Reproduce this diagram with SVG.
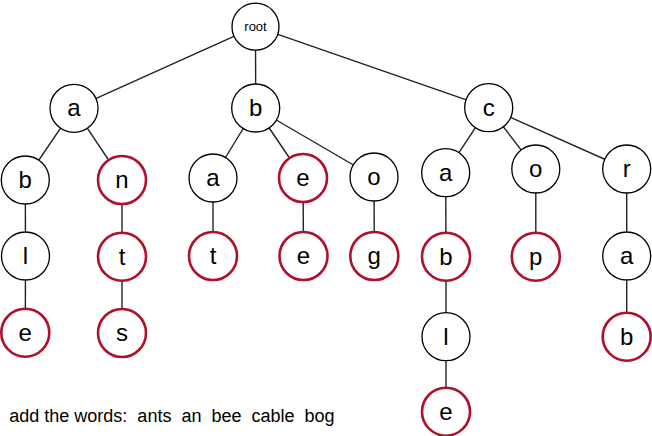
<svg xmlns="http://www.w3.org/2000/svg" width="652" height="436" viewBox="0 0 652 436">
<style>
.n circle{fill:#fff;stroke:#000;stroke-width:1.3}
.n.w circle{stroke:#B1102B;stroke-width:2.6}
.n text{font-family:"Liberation Sans",Arial,sans-serif;font-size:24px;text-anchor:middle;fill:#000}
#root text{font-size:13px}
.e line{stroke:#222;stroke-width:1.4}
.cap{font-family:"Liberation Sans",Arial,sans-serif;font-size:18px;fill:#000}
</style>
<rect width="652" height="436" fill="#fff"/>
<g id="connectors" class="e">
<line x1="255.5" y1="26.7" x2="74" y2="108.3"/>
<line x1="255.5" y1="26.7" x2="255.7" y2="108"/>
<line x1="255.5" y1="26.7" x2="488.7" y2="107.7"/>
<line x1="74" y1="108.3" x2="25.3" y2="180"/>
<line x1="74" y1="108.3" x2="122" y2="180"/>
<line x1="255.7" y1="108" x2="213" y2="178"/>
<line x1="255.7" y1="108" x2="303" y2="178"/>
<line x1="255.7" y1="108" x2="374" y2="177"/>
<line x1="488.7" y1="107.7" x2="445.7" y2="172.7"/>
<line x1="488.7" y1="107.7" x2="535.8" y2="169"/>
<line x1="488.7" y1="107.7" x2="626.7" y2="169"/>
<line x1="25.3" y1="180" x2="25.5" y2="256"/>
<line x1="25.5" y1="256" x2="25.3" y2="332.7"/>
<line x1="122" y1="180" x2="122" y2="256.7"/>
<line x1="122" y1="256.7" x2="122" y2="333"/>
<line x1="213" y1="178" x2="213" y2="256"/>
<line x1="303" y1="178" x2="303.5" y2="256"/>
<line x1="374" y1="177" x2="374.3" y2="256"/>
<line x1="445.7" y1="172.7" x2="446" y2="256.7"/>
<line x1="446" y1="256.7" x2="446" y2="336.7"/>
<line x1="446" y1="336.7" x2="446" y2="411.7"/>
<line x1="535.8" y1="169" x2="535.8" y2="256.7"/>
<line x1="626.7" y1="169" x2="626.7" y2="256"/>
<line x1="626.7" y1="256" x2="626.7" y2="336.7"/>
</g>
<g id="root" class="n"><circle cx="255.5" cy="26.7" r="23.5"/><text x="255.5" y="31.3">root</text></g>
<g id="n-a" class="n"><circle cx="74" cy="108.3" r="24"/><text x="74" y="116.3">a</text></g>
<g id="n-b" class="n"><circle cx="255.7" cy="108" r="24"/><text x="255.7" y="116">b</text></g>
<g id="n-c" class="n"><circle cx="488.7" cy="107.7" r="24"/><text x="488.7" y="115.7">c</text></g>
<g id="n-ab" class="n"><circle cx="25.3" cy="180" r="24"/><text x="25.3" y="188">b</text></g>
<g id="n-an" class="n w"><circle cx="122" cy="180" r="24"/><text x="122" y="188">n</text></g>
<g id="n-ba" class="n"><circle cx="213" cy="178" r="24"/><text x="213" y="186">a</text></g>
<g id="n-be" class="n w"><circle cx="303" cy="178" r="24"/><text x="303" y="186">e</text></g>
<g id="n-bo" class="n"><circle cx="374" cy="177" r="24"/><text x="374" y="185">o</text></g>
<g id="n-ca" class="n"><circle cx="445.7" cy="172.7" r="24"/><text x="445.7" y="180.7">a</text></g>
<g id="n-co" class="n"><circle cx="535.8" cy="169" r="24"/><text x="535.8" y="177">o</text></g>
<g id="n-cr" class="n"><circle cx="626.7" cy="169" r="24"/><text x="626.7" y="177">r</text></g>
<g id="n-abl" class="n"><circle cx="25.5" cy="256" r="24"/><text x="25.5" y="264">l</text></g>
<g id="n-ant" class="n w"><circle cx="122" cy="256.7" r="24"/><text x="122" y="264.7">t</text></g>
<g id="n-bat" class="n w"><circle cx="213" cy="256" r="24"/><text x="213" y="264">t</text></g>
<g id="n-bee" class="n w"><circle cx="303.5" cy="256" r="24"/><text x="303.5" y="264">e</text></g>
<g id="n-bog" class="n w"><circle cx="374.3" cy="256" r="24"/><text x="374.3" y="264">g</text></g>
<g id="n-cab" class="n w"><circle cx="446" cy="256.7" r="24"/><text x="446" y="264.7">b</text></g>
<g id="n-cop" class="n w"><circle cx="535.8" cy="256.7" r="24"/><text x="535.8" y="264.7">p</text></g>
<g id="n-cra" class="n"><circle cx="626.7" cy="256" r="24"/><text x="626.7" y="264">a</text></g>
<g id="n-able" class="n w"><circle cx="25.3" cy="332.7" r="24"/><text x="25.3" y="340.7">e</text></g>
<g id="n-ants" class="n w"><circle cx="122" cy="333" r="24"/><text x="122" y="341">s</text></g>
<g id="n-cabl" class="n"><circle cx="446" cy="336.7" r="24"/><text x="446" y="344.7">l</text></g>
<g id="n-crab" class="n w"><circle cx="626.7" cy="336.7" r="24"/><text x="626.7" y="344.7">b</text></g>
<g id="n-cable" class="n w"><circle cx="446" cy="411.7" r="24"/><text x="446" y="419.7">e</text></g>
<text class="cap" x="9.3" y="421.5" xml:space="preserve">add the words:  ants  an  bee  cable  bog</text>
</svg>
